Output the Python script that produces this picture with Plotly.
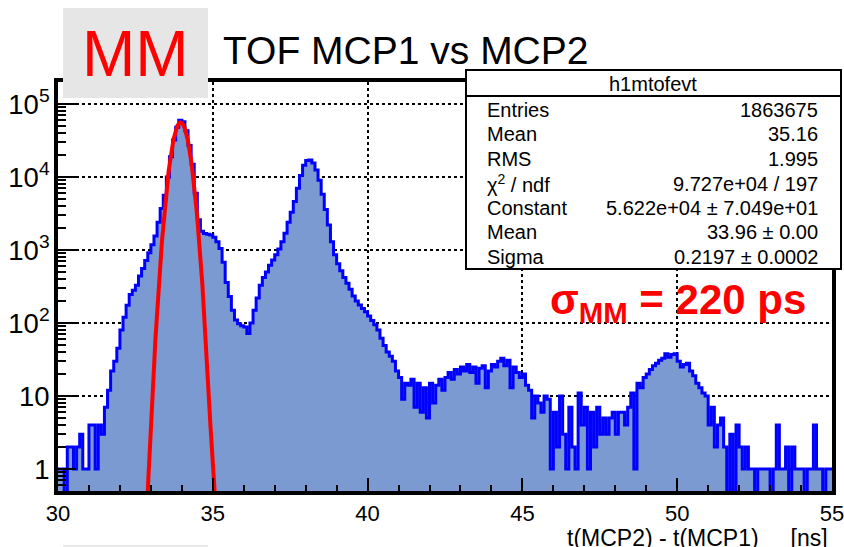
import numpy as np
import plotly.graph_objects as go

# ---- histogram h1mtofevt : t(MCP2) - t(MCP1), 0.1 ns bins from 30 to 55 ns ----
bin_start = 30.0
bin_width = 0.1
counts = [
    1, 1, 0, 2, 2, 1, 2, 3, 1, 1,                                   # 30.x
    4, 4, 1, 4, 3, 7, 12, 22, 30, 45,                               # 31.x
    80, 120, 175, 245, 280, 330, 440, 560, 720, 920,                # 32.x
    1180, 1550, 2400, 3700, 5600, 10000, 19000, 32000, 48000, 60000,  # 33.x
    57000, 43000, 27000, 15000, 6000, 2600, 1800, 1680, 1640, 1600,   # 34.x
    1500, 1300, 1050, 680, 360, 230, 150, 110, 98, 92,              # 35.x
    88, 72, 100, 150, 220, 330, 420, 500, 620, 730,                 # 36.x
    860, 1030, 1300, 1700, 2400, 3300, 4600, 7000, 10500, 14500,    # 37.x
    16800, 17100, 15500, 12500, 9000, 5800, 3600, 2200, 1300, 860,  # 38.x
    650, 520, 420, 350, 290, 235, 200, 176, 158, 143,               # 39.x
    125, 108, 95, 80, 62, 49, 40, 35, 30, 22,                       # 40.x
    18, 9, 15, 14, 17, 7, 15, 6, 13, 5,                             # 41.x
    15, 8, 14, 17, 12, 18, 21, 17, 23, 20,                          # 42.x
    25, 22, 27, 21, 25, 15, 24, 26, 13, 22,                         # 43.x
    27, 25, 30, 33, 26, 31, 13, 25, 21, 18,                         # 44.x
    20, 14, 12, 5, 10, 8, 6, 10, 9, 1,                              # 45.x
    6, 2, 10, 3, 1, 7, 2, 1, 11, 4,                                 # 46.x
    7, 1, 6, 2, 7, 3, 5, 3, 5, 6,                                   # 47.x
    3, 6, 6, 4, 7, 11, 1, 15, 13, 18,                               # 48.x
    20, 23, 26, 28, 31, 33, 38, 34, 37, 38,                         # 49.x
    30, 25, 27, 28, 22, 19, 15, 13, 11, 10,                         # 50.x
    4, 7, 2, 4, 5, 2, 0, 3, 0, 4,                                   # 51.x
    2, 1, 2, 1, 1, 0, 1, 1, 1, 1,                                   # 52.x
    0, 1, 4, 1, 1, 2, 0, 2, 1, 1,                                   # 53.x
    1, 0, 1, 1, 4, 1, 1, 0, 1, 1,                                   # 54.x
]

# ---- gaussian fit result ----
fit_constant = 5.622e4
fit_mean = 33.96
fit_sigma = 0.2197
fit_range = (32.5, 35.5)

# ---- statistics box ----
stats_name = "h1mtofevt"
stats_labels = ["Entries", "Mean", "RMS", "χ<sup>2</sup> / ndf",
                "Constant", "Mean", "Sigma"]
stats_values = ["1863675", "35.16", "1.995", "9.727e+04 / 197",
                "5.622e+04 ± 7.049e+01", "33.96 ± 0.00", "0.2197 ± 0.0002"]

# ---- axes ----
x_range = (30, 55)
y_range = (0.5, 2e5)
x_title = "t(MCP2) - t(MCP1)" + "\u00a0" * 5 + "[ns]"
plot_title = "TOF MCP1 vs MCP2"
tag_text = "MM"
resolution_text = "<b>σ<sub>MM</sub> = 220 ps</b>"

FONT = "Liberation Sans, Arial, Helvetica, sans-serif"
FILL = "#7b9ad1"
W, H = 844, 547
L, R, T, B = 58, 832, 82, 491   # plot frame in pixels


def px(x):
    return (x - L) / (R - L)


def py(y):
    return (B - y) / (B - T)


# step outline: one point per bin edge, empty bins pushed below the axis floor
counts_arr = np.array(counts, dtype=float)
n = len(counts_arr)
edges = bin_start + bin_width * np.arange(n + 1)
floor = 0.1
step_y = np.where(counts_arr > 0, counts_arr, floor)
step_x = edges
step_y = np.append(step_y, step_y[-1])

fig = go.Figure()

# baseline for the fill
fig.add_trace(go.Scatter(
    x=[edges[0], edges[-1]], y=[floor, floor], mode="lines",
    line=dict(width=0, color=FILL), hoverinfo="skip", showlegend=False))

# histogram
fig.add_trace(go.Scatter(
    x=step_x, y=step_y, mode="lines", line_shape="hv",
    line=dict(color="#0000ff", width=3),
    fill="tonexty", fillcolor=FILL, showlegend=False))

# gaussian fit
fx = np.linspace(fit_range[0], fit_range[1], 600)
fy = fit_constant * np.exp(-0.5 * ((fx - fit_mean) / fit_sigma) ** 2)
fig.add_trace(go.Scatter(
    x=fx, y=np.maximum(fy, 1e-3), mode="lines",
    line=dict(color="#ff0000", width=4), showlegend=False))

axis_common = dict(
    showline=True, mirror=True, linecolor="black", linewidth=4,
    ticks="inside", tickcolor="black", tickwidth=2,
    showgrid=True, gridcolor="black", gridwidth=2, griddash="dot",
    zeroline=False, automargin=False, ticklabeloverflow="allow",
    tickfont=dict(family=FONT, size=22, color="black"),
)

fig.update_xaxes(
    range=list(x_range), tick0=30, dtick=5, ticklen=13,
    minor=dict(ticks="inside", dtick=1, ticklen=6, tickwidth=2,
               tickcolor="black", showgrid=False),
    **axis_common)
fig.update_yaxes(
    type="log", range=[np.log10(y_range[0]), np.log10(y_range[1])],
    dtick=1, ticklen=18, exponentformat="power",
    minor=dict(ticks="inside", dtick="D1", ticklen=8, tickwidth=2,
               tickcolor="black", showgrid=False),
    **axis_common)

shapes = [
    # grey tag boxes
    dict(type="rect", xref="paper", yref="paper", x0=px(63), x1=px(208),
         y0=py(98), y1=py(8), fillcolor="#e6e6e6", line=dict(width=0),
         layer="above"),
    dict(type="rect", xref="paper", yref="paper", x0=px(63), x1=px(208),
         y0=py(549), y1=py(545), fillcolor="#e9e9e9", line=dict(width=0),
         layer="above"),
    # statistics box
    dict(type="rect", xref="paper", yref="paper", x0=px(466), x1=px(841),
         y0=py(269), y1=py(70), fillcolor="white",
         line=dict(color="black", width=2), layer="above"),
    dict(type="line", xref="paper", yref="paper", x0=px(466), x1=px(841),
         y0=py(96), y1=py(96), line=dict(color="black", width=2),
         layer="above"),
]

annotations = [
    dict(text=plot_title, x=px(221), y=py(50), xanchor="left",
         yanchor="middle", font=dict(family=FONT, size=39, color="black")),
    dict(text=tag_text, x=px(135), y=py(54), xanchor="center",
         yanchor="middle", font=dict(family=FONT, size=64, color="#ff0000")),
    dict(text=stats_name, x=px(653), y=py(84), xanchor="center",
         yanchor="middle", font=dict(family=FONT, size=20, color="black")),
    dict(text=resolution_text, x=px(548), y=py(302), xanchor="left",
         yanchor="middle", font=dict(family=FONT, size=42, color="#ff0000")),
    dict(text=x_title, x=px(830), y=py(538), xanchor="right",
         yanchor="middle", font=dict(family=FONT, size=23, color="black")),
]
row_y0, row_dy = 110, 24.5
for i, (lab, val) in enumerate(zip(stats_labels, stats_values)):
    yy = py(row_y0 + i * row_dy)
    annotations.append(dict(text=lab, x=px(485), y=yy, xanchor="left",
                            yanchor="middle",
                            font=dict(family=FONT, size=20, color="black")))
    annotations.append(dict(text=val, x=px(820), y=yy, xanchor="right",
                            yanchor="middle",
                            font=dict(family=FONT, size=20, color="black")))
for a in annotations:
    a.update(xref="paper", yref="paper", showarrow=False)

fig.update_layout(
    width=W, height=H, autosize=False,
    margin=dict(l=L, r=W - R, t=T, b=H - B),
    paper_bgcolor="white", plot_bgcolor="white",
    shapes=shapes, annotations=annotations, showlegend=False,
)

fig.write_html("out.html")
